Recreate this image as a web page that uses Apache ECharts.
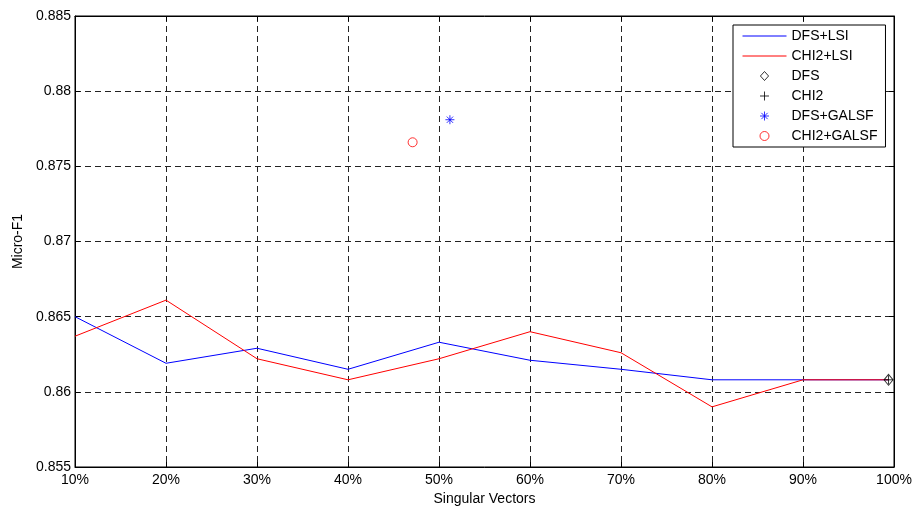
<!DOCTYPE html>
<html>
<head>
<meta charset="utf-8">
<script src="https://cdn.jsdelivr.net/npm/echarts@6/dist/echarts.min.js"></script>
<style>
  html, body { margin: 0; padding: 0; background: #fff; }
  #chart { width: 918px; height: 512px; }
</style>
</head>
<body>
<div id="chart"></div>
<script>
// Share of singular vectors kept (x positions, percent)
const svPercent = [10, 20, 30, 40, 50, 60, 70, 80, 90, 99.4];
const xTickValues = [10, 20, 30, 40, 50, 60, 70, 80, 90, 100];

// Micro-F1 for LSI on top of each feature selector
const dfsLsi  = [0.8650, 0.8619, 0.8629, 0.8615, 0.8633, 0.8621, 0.8615, 0.8608, 0.8608, 0.8608];
const chi2Lsi = [0.8637, 0.8661, 0.8622, 0.8608, 0.8622, 0.8640, 0.8626, 0.8590, 0.8608, 0.8608];

// Single reference points: [percent, micro-F1]
const dfsOnly    = [[99.4, 0.8608]];
const chi2Only   = [[99.4, 0.8608]];
const dfsGalsf   = [[51.2, 0.8781]];
const chi2Galsf  = [[47.1, 0.8766]];

const FONT = '"Liberation Sans", Arial, Helvetica, sans-serif';

// Marker shapes
const diamondPath = 'path://M5,0L10,5.5L5,11L0,5.5Z';
const plusPath = 'path://M0,5L10,5M5,0L5,10';
const starPath = 'path://M5,0L5,10M0,5L10,5M1.5,1.5L8.5,8.5M1.5,8.5L8.5,1.5';
const circlePath = 'path://M10,5A5,5,0,1,1,0,5A5,5,0,1,1,10,5Z';

function pairs(xs, ys) { return xs.map((x, i) => [x, ys[i]]); }

const yFmt = v => String(Number(v.toFixed(3)));

const chart = echarts.init(document.getElementById('chart'), null, { renderer: 'canvas' });

chart.setOption({
  animation: false,
  backgroundColor: '#fff',
  textStyle: { fontFamily: FONT },
  grid: {
    left: 75, right: 24, top: 16, bottom: 45,
    show: true, borderColor: '#000', borderWidth: 1, backgroundColor: '#fff'
  },
  xAxis: [{
    type: 'value', min: 10, max: 100, interval: 10,
    name: 'Singular Vectors', nameLocation: 'middle', nameGap: 25,
    nameTextStyle: { color: '#000', fontSize: 14, fontFamily: FONT },
    axisLine: { show: true, lineStyle: { color: '#000', width: 1 } },
    axisTick: { show: true, inside: true, length: 5, lineStyle: { color: '#000' } },
    axisLabel: {
      color: '#000', fontSize: 14, fontFamily: FONT, margin: 6,
      formatter: v => (xTickValues.indexOf(v) >= 0 ? v + '%' : '')
    },
    splitLine: { show: true, lineStyle: { color: '#222', type: [6, 4], width: 1 } }
  }, {
    type: 'value', position: 'top', min: 10, max: 100, interval: 10,
    axisLine: { show: true, lineStyle: { color: '#000' } },
    axisTick: { show: true, inside: true, length: 5, lineStyle: { color: '#000' } },
    axisLabel: { show: false },
    splitLine: { show: false }
  }],
  yAxis: [{
    type: 'value', min: 0.855, max: 0.885, interval: 0.005,
    name: 'Micro-F1', nameLocation: 'middle', nameGap: 49, nameRotate: 90,
    nameTextStyle: { color: '#000', fontSize: 14, fontFamily: FONT },
    axisLine: { show: true, lineStyle: { color: '#000', width: 1 } },
    axisTick: { show: true, inside: true, length: 5, lineStyle: { color: '#000' } },
    axisLabel: { color: '#000', fontSize: 14, fontFamily: FONT, margin: 4, formatter: yFmt },
    splitLine: { show: true, lineStyle: { color: '#222', type: [6, 4], width: 1 } }
  }, {
    type: 'value', position: 'right', min: 0.855, max: 0.885, interval: 0.005,
    axisLine: { show: true, lineStyle: { color: '#000' } },
    axisTick: { show: true, inside: true, length: 5, lineStyle: { color: '#000' } },
    axisLabel: { show: false },
    splitLine: { show: false }
  }],
  legend: {
    orient: 'vertical', left: 733, top: 25,
    padding: [4, 8, 4, 9],
    itemWidth: 44, itemHeight: 9, itemGap: 6,
    backgroundColor: '#fff', borderColor: '#000', borderWidth: 1,
    selectedMode: false,
    textStyle: { color: '#000', fontSize: 14, fontFamily: FONT, lineHeight: 14 },
    itemStyle: { borderWidth: 1 },
    lineStyle: { width: 1 },
    data: [
      { name: 'DFS+LSI' },
      { name: 'CHI2+LSI' },
      { name: 'DFS', icon: diamondPath },
      { name: 'CHI2', icon: plusPath },
      { name: 'DFS+GALSF', icon: starPath },
      { name: 'CHI2+GALSF', icon: circlePath }
    ]
  },
  series: [
    {
      name: 'DFS+LSI', type: 'line', data: pairs(svPercent, dfsLsi),
      symbol: 'none', lineStyle: { color: '#0000ff', width: 1 },
      itemStyle: { color: 'rgba(0,0,0,0)', borderColor: 'rgba(0,0,0,0)', borderWidth: 0 },
      z: 3
    },
    {
      name: 'CHI2+LSI', type: 'line', data: pairs(svPercent, chi2Lsi),
      symbol: 'none', lineStyle: { color: '#ff0000', width: 1 },
      itemStyle: { color: 'rgba(0,0,0,0)', borderColor: 'rgba(0,0,0,0)', borderWidth: 0 },
      z: 4
    },
    {
      name: 'DFS', type: 'scatter', data: dfsOnly,
      symbol: diamondPath, symbolSize: [9, 11],
      itemStyle: { color: 'none', borderColor: '#000', borderWidth: 1 }, z: 5
    },
    {
      name: 'CHI2', type: 'scatter', data: chi2Only,
      symbol: plusPath, symbolSize: 9,
      itemStyle: { color: 'none', borderColor: '#000', borderWidth: 1 }, z: 6
    },
    {
      name: 'DFS+GALSF', type: 'scatter', data: dfsGalsf,
      symbol: starPath, symbolSize: 9,
      itemStyle: { color: 'none', borderColor: '#0000ff', borderWidth: 1 }, z: 5
    },
    {
      name: 'CHI2+GALSF', type: 'scatter', data: chi2Galsf,
      symbol: circlePath, symbolSize: 9,
      itemStyle: { color: 'none', borderColor: '#ff0000', borderWidth: 1 }, z: 5
    }
  ]
});
</script>
</body>
</html>
